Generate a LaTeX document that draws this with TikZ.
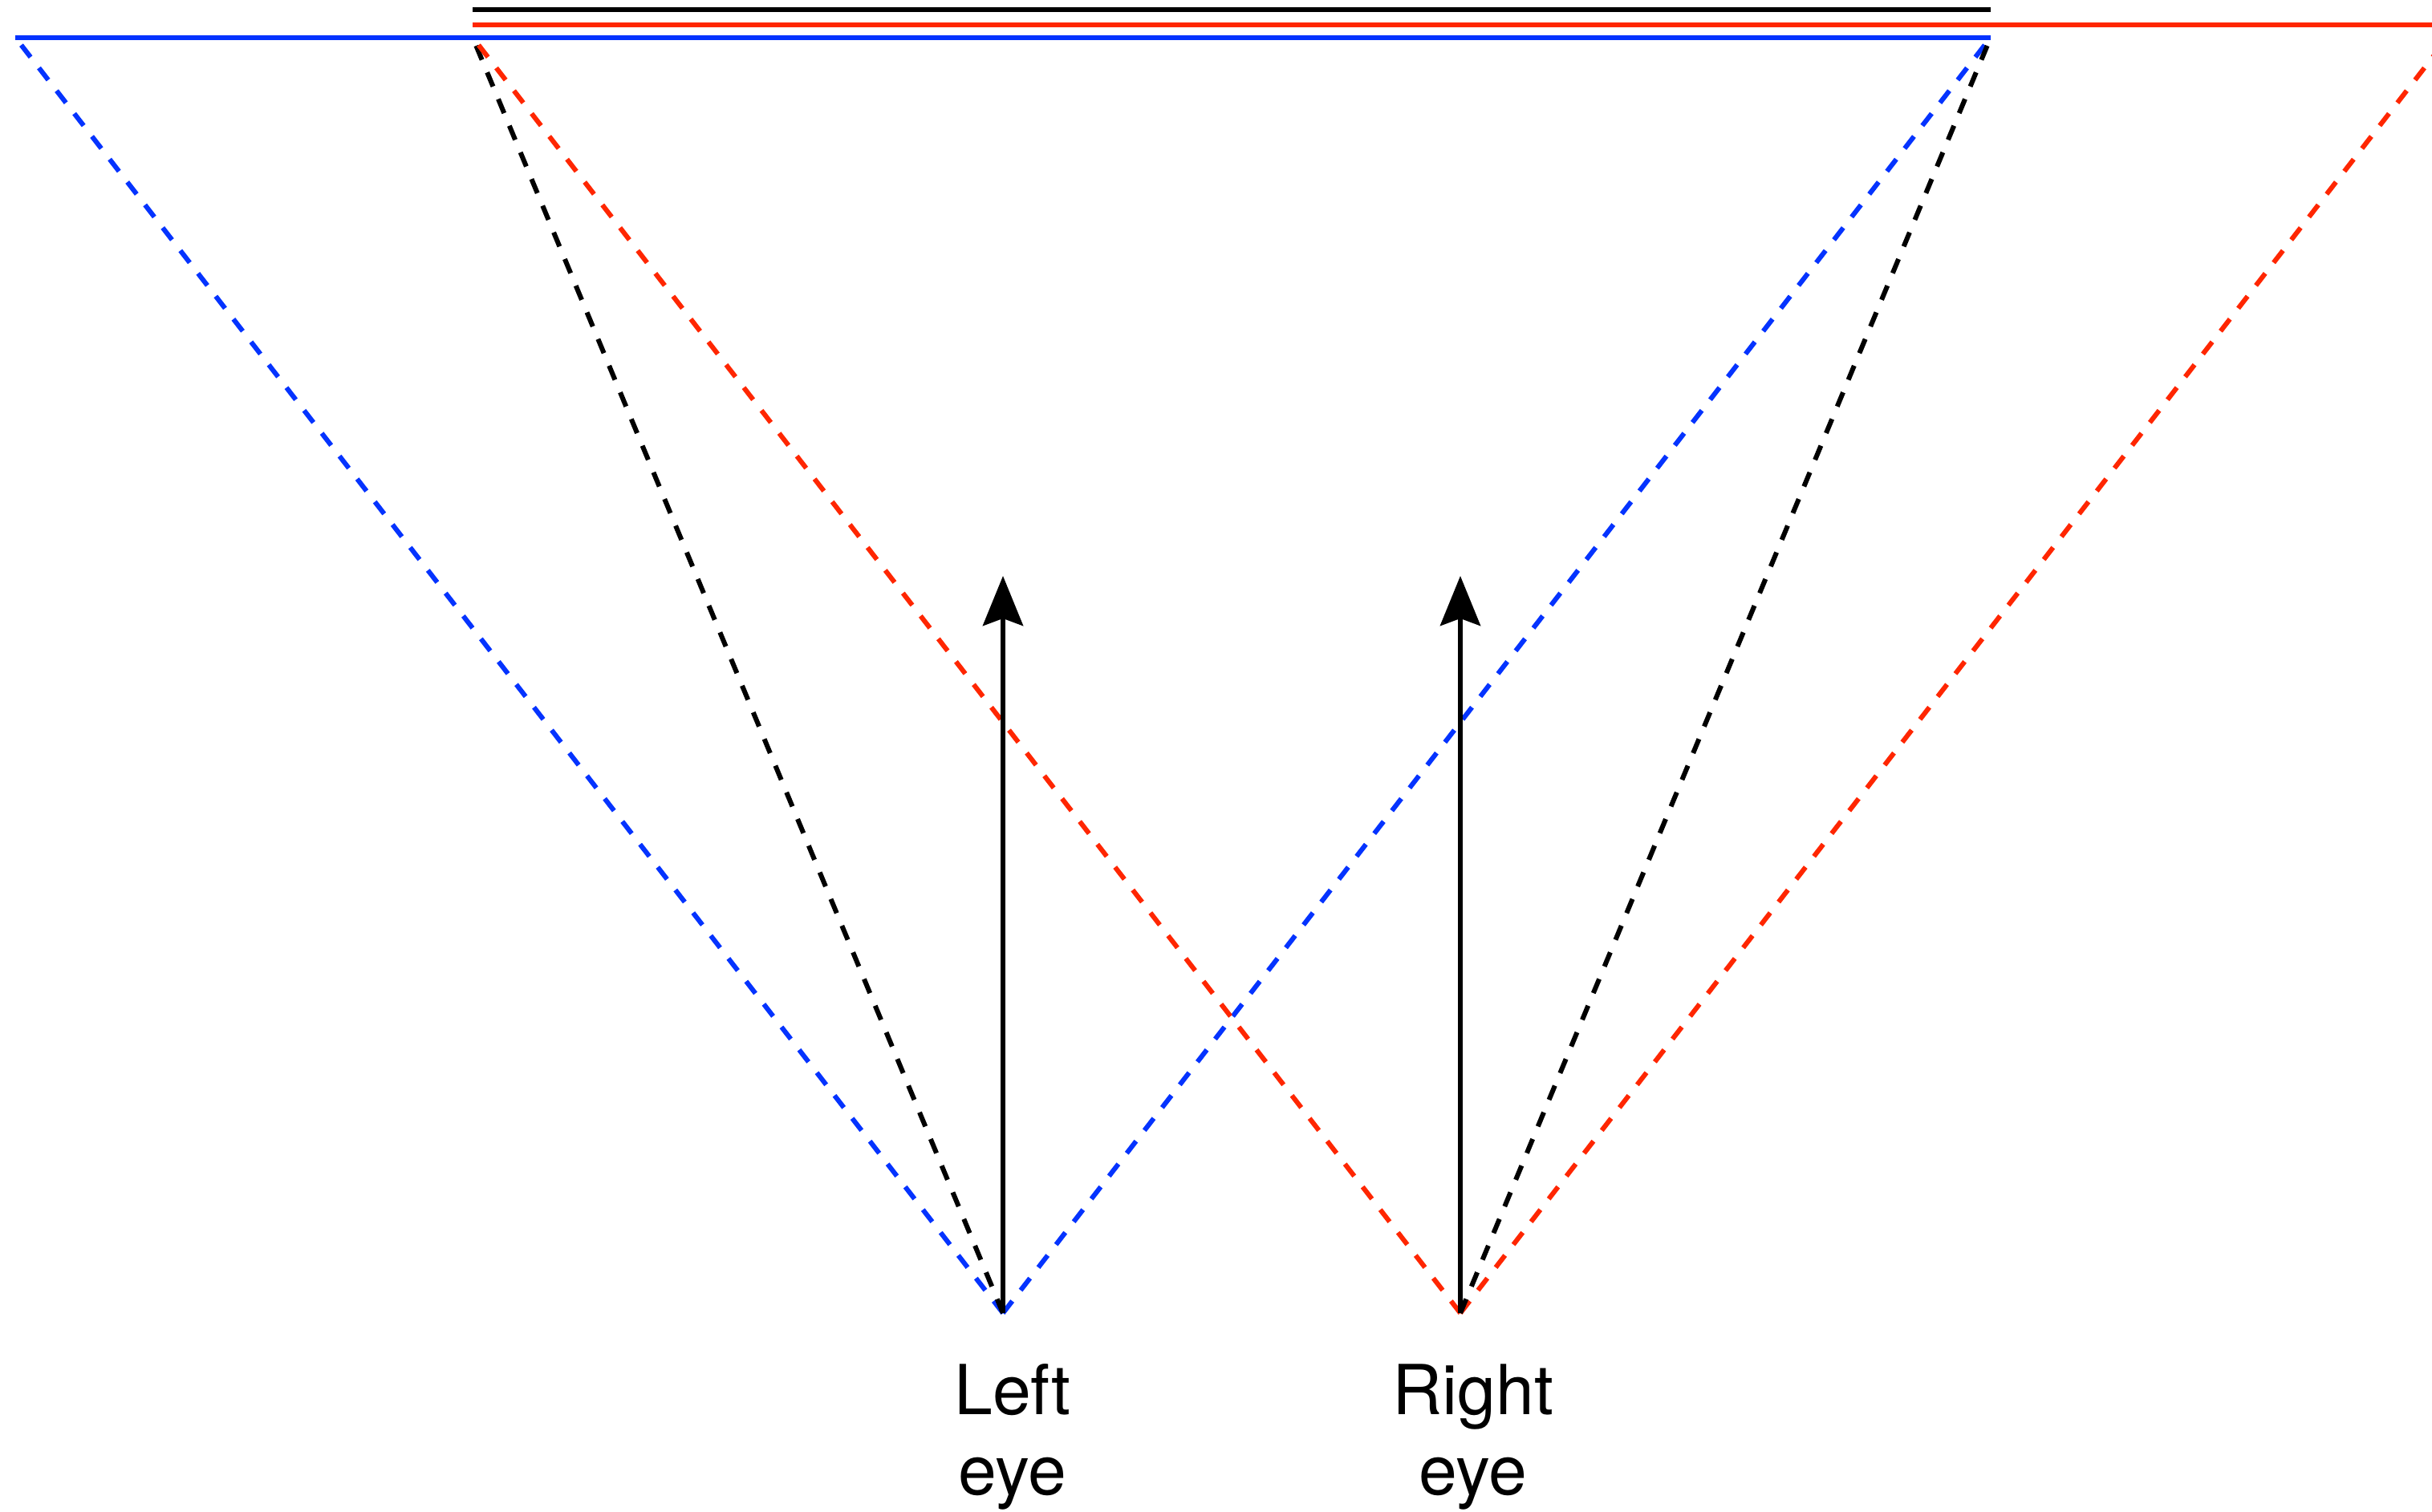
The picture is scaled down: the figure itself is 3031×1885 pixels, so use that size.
\documentclass[tikz,border=0pt]{standalone}
\usepackage{fontspec}
\setmainfont{TeX Gyre Heros}
\usetikzlibrary{arrows.meta}
\definecolor{kblue}{RGB}{4,51,255}
\definecolor{kred}{RGB}{255,38,0}
\begin{document}
\begin{tikzpicture}[x=0.25pt,y=-0.25pt, line width=1.5pt,
  ray/.style={dash pattern=on 4.75pt off 4.25pt},
  sight/.style={-{Stealth[length=15.5pt,width=12.5pt,inset=2.25pt]}},
  eyelabel/.style={font=\fontsize{21.5pt}{25pt}\selectfont, align=center, inner sep=0pt, anchor=north}]
\useasboundingbox (0,0) rectangle (3031,1885);
\clip (0,0) rectangle (3031,1885);
% eyes
\coordinate (le) at (1250,1637);
\coordinate (re) at (1820,1637);
% top points
\coordinate (bL) at (19,46.5);
\coordinate (bR) at (2481,46.5);
\coordinate (cL) at (589,46.5);
\coordinate (rR) at (3051,46.5);
\coordinate (kL) at (589,12);
\coordinate (kR) at (2481,12);
\coordinate (redL) at (589,31);
\coordinate (redR) at (3031,31);
\coordinate (lt) at (1250,718);
\coordinate (rt) at (1820,718);
% dashed sight rays
\draw[kblue, ray] (le) -- (bL);
\draw[kblue, ray] (le) -- (bR);
\draw[black, ray] (le) -- (cL);
\draw[kred, ray] (re) -- (cL);
\draw[kred, ray] (re) -- (rR);
\draw[black, ray] (re) -- (bR);
% solid image lines
\draw[black] (kL) -- (kR);
\draw[kred] (redL) -- (redR);
\draw[kblue] (bL) -- (bR);
% gaze arrows
\draw[sight] (le) -- (lt);
\draw[sight] (re) -- (rt);
% labels
\node[eyelabel] (llab) at (1262,1698) {Left\\eye};
\node[eyelabel] (rlab) at (1836,1698) {Right\\eye};
\end{tikzpicture}
\end{document}
